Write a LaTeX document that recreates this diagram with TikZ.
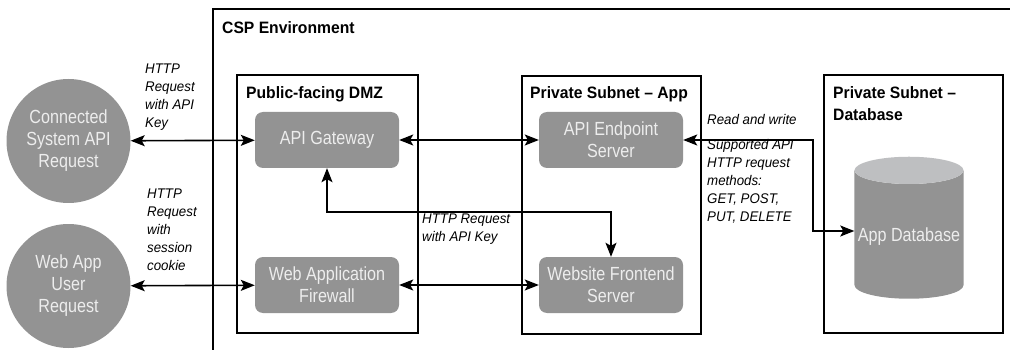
\documentclass[tikz,border=0pt]{standalone}
\usepackage{fontspec}
\setmainfont{Liberation Sans}[FakeStretch=0.85]
\newfontfamily\headfont{Liberation Sans}[FakeStretch=0.95,Ligatures=TeX]
\usetikzlibrary{arrows.meta,shapes.geometric}
\definecolor{boxgray}{HTML}{939393}
\definecolor{capgray}{HTML}{BEBFC1}
\definecolor{labelgray}{HTML}{EDEDED}

\begin{document}
\begin{tikzpicture}[x=1pt, y=-1pt,
  zone/.style={draw=black, line width=1.6pt, inner sep=0pt},
  zonetitle/.style={anchor=north west, inner sep=0pt, align=left,
                    font=\headfont\fontsize{16.5}{22}\selectfont\bfseries},
  srv/.style={fill=boxgray, rounded corners=8pt, minimum width=144pt,
              minimum height=56pt, align=center, text=labelgray,
              font=\fontsize{19}{22}\selectfont},
  client/.style={circle, fill=boxgray, minimum size=124pt, inner sep=0pt,
                 align=center, text=labelgray, font=\fontsize{19}{22}\selectfont},
  store/.style={cylinder, shape border rotate=90, aspect=0.25,
                cylinder uses custom fill, cylinder body fill=boxgray,
                cylinder end fill=capgray, minimum width=108pt,
                minimum height=142pt, text=labelgray,
                font=\fontsize{19}{22}\selectfont},
  note/.style={anchor=north west, inner sep=0pt, align=left,
               font=\headfont\fontsize{14}{18}\selectfont\itshape},
  link/.style={{Stealth[length=14pt,width=11pt,inset=3pt]}-{Stealth[length=14pt,width=11pt,inset=3pt]},
               line width=1.6pt}
]
  \useasboundingbox (0,0) rectangle (1010,350);

  % ── CSP frame (runs off the right and bottom) ──
  \draw[line width=1.6pt] (213,350) |- (1010,9);
  \node[zonetitle] (csp) at (222,21) {CSP Environment};

  % ── Zones ──
  \node[zone, minimum width=181pt, minimum height=258pt] (dmz) at (327.5,204) {};
  \node[zone, minimum width=179pt, minimum height=258pt] (app) at (611.5,205) {};
  \node[zone, minimum width=179pt, minimum height=258pt] (data) at (913.5,204) {};
  \node[zonetitle] (dmztitle) at (246,86) {Public-facing DMZ};
  \node[zonetitle] (apptitle) at (530,86) {Private Subnet – App};
  \node[zonetitle] (datatitle) at (833,86) {Private Subnet –\\Database};

  % ── Clients ──
  \node[client] (sysreq) at (68.5,141) {Connected\\System API\\Request};
  \node[client] (userreq) at (68.5,286) {Web App\\User\\Request};

  % ── Servers ──
  \node[srv] (gw) at (327,140) {API Gateway};
  \node[srv] (waf) at (327,285) {Web Application\\Firewall};
  \node[srv] (ep) at (611,140) {API Endpoint\\Server};
  \node[srv] (fe) at (611,285) {Website Frontend\\Server};
  \node[store] (db) at (909,237) {App Database};

  % ── Connections ──
  \draw[link] (sysreq) -- (gw);
  \draw[link] (userreq) -- (waf);
  \draw[link] (gw) -- (ep);
  \draw[link] (waf) -- (fe);
  \draw[link] (gw.south) -- ++(0,44) -| (fe.north);
  \draw[link] (ep.east) -- ++(130,0) |- ([yshift=6pt]db.west);

  % ── Labels ──
  \node[note] (keynote) at (145,64) {HTTP\\Request\\with API\\Key};
  \node[note] (cookienote) at (147,189) {HTTP\\Request\\with\\session\\cookie};
  \node[note] (fwdnote) at (422,214) {HTTP Request\\with API Key};
  \node[note] (rwnote) at (707,114) {Read and write};
  \node[note] (methnote) at (707,139) {Supported API\\HTTP request\\methods:\\GET, POST,\\PUT, DELETE};
\end{tikzpicture}
\end{document}
